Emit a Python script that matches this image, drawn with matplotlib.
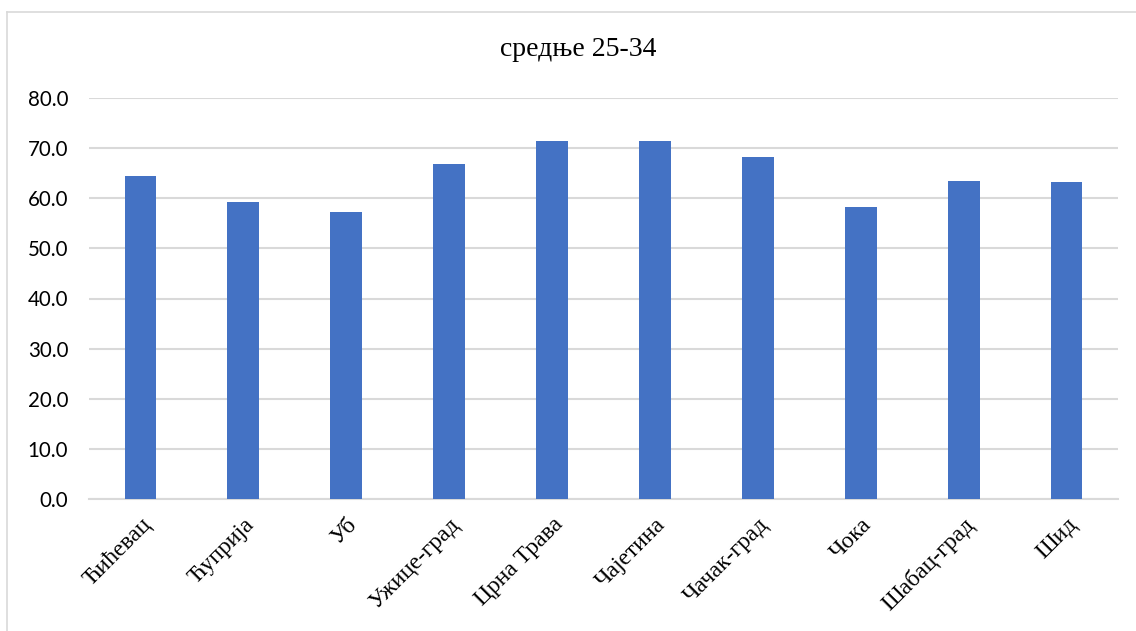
import matplotlib.pyplot as plt
from matplotlib.lines import Line2D

places = ['Ћићевац', 'Ћуприја', 'Уб', 'Ужице-град', 'Црна Трава',
          'Чајетина', 'Чачак-град', 'Чока', 'Шабац-град', 'Шид']
values = [64.4, 59.3, 57.3, 66.8, 71.5, 71.4, 68.3, 58.3, 63.5, 63.3]
yticks = [0, 10, 20, 30, 40, 50, 60, 70, 80]

W, H = 1136, 631
fig = plt.figure(figsize=(W / 100, H / 100), dpi=100)
ax = fig.add_axes([89 / W, 1 - 499 / H, (1118 - 89) / W, (499 - 98) / H])

x = list(range(len(places)))
ax.bar(x, values, width=0.31, color='#4472C4', zorder=3)

ax.set_ylim(0, 80)
ax.set_xlim(-0.5, 9.5)
ax.set_yticks(yticks)
ax.set_yticklabels([f'{v:.1f}' for v in yticks], family='Lato', fontsize=14.8)
ax.set_xticks(x)
ax.set_xticklabels(places, rotation=45, ha='right', rotation_mode='anchor',
                   family='Liberation Serif', fontsize=17)
ax.tick_params(axis='both', length=0)
ax.tick_params(axis='y', pad=15)
ax.tick_params(axis='x', pad=11)

ax.grid(axis='y', color='#d9d9d9', linewidth=1.5, zorder=0)
for side in ['top', 'right', 'left']:
    ax.spines[side].set_visible(False)
ax.spines['bottom'].set_color('#d9d9d9')
ax.spines['bottom'].set_linewidth(1.5)

fig.text(578 / W, 1 - 49 / H, 'средње 25-34', ha='center', va='center',
         family='Liberation Serif', fontsize=20)

# chart frame (top and left edges visible)
fig.add_artist(Line2D([7 / W, 7 / W], [0, 1 - 12 / H], transform=fig.transFigure,
                      color='#d9d9d9', linewidth=1.2))
fig.add_artist(Line2D([7 / W, 1], [1 - 12 / H, 1 - 12 / H], transform=fig.transFigure,
                      color='#d9d9d9', linewidth=1.2))

fig.savefig('out.png', dpi=100)
